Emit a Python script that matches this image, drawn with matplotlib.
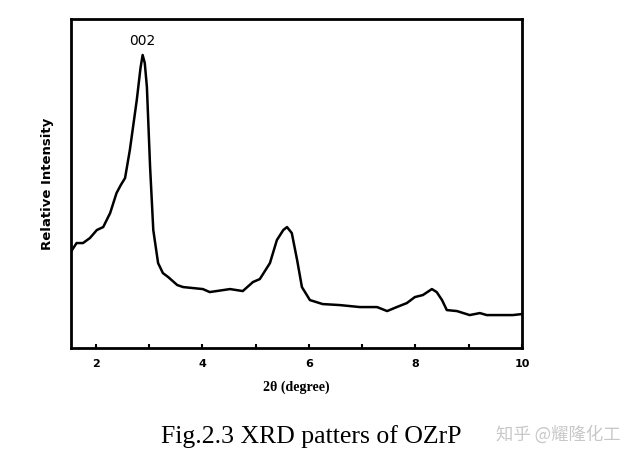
import matplotlib
matplotlib.use("Agg")
import matplotlib.pyplot as plt
import numpy as np

two_theta = [1.53, 1.64, 1.76, 1.89, 2.02, 2.14, 2.27, 2.39, 2.47, 2.55, 2.64, 2.77, 2.84, 2.88,
             2.92, 2.96, 3.02, 3.08, 3.17, 3.26, 3.36, 3.53, 3.64, 4.01, 4.14, 4.52, 4.76,
             4.95, 5.08, 5.27, 5.40, 5.52, 5.59, 5.68, 5.78, 5.87, 6.02, 6.26, 6.58, 6.96,
             7.28, 7.47, 7.65, 7.84, 7.99, 8.14, 8.31, 8.40, 8.50, 8.59, 8.78, 9.02,
             9.21, 9.34, 9.59, 9.83, 10.0]
intensity = [96, 105, 105, 110, 118, 121, 135, 155, 163, 170, 198, 248, 280, 293,
             285, 261, 181, 118, 85, 75, 71, 63, 61, 59, 56, 59, 57,
             66, 69, 85, 108, 118, 121, 115, 88, 61, 48, 44, 43, 41,
             41, 37, 41, 45, 51, 53, 59, 56, 48, 38, 37, 33,
             35, 33, 33, 33, 34]
xticks = [2, 4, 6, 8, 10]
minor_xticks = [3, 5, 7, 9]

fig = plt.figure(figsize=(6.4, 4.58), dpi=100)
ax = fig.add_axes([0.1105, 0.240, 0.705, 0.7185])
ax.plot(two_theta, intensity, color='black', lw=1.8)
ax.set_xlim(1.53, 10)
ax.set_ylim(0, 329)
ax.set_xticks(xticks)
ax.set_xticklabels([str(t) for t in xticks], fontsize=8, fontweight='bold')
ax.set_xticks(minor_xticks, minor=True)
ax.tick_params(axis='x', which='both', direction='in', length=3, width=1.5, pad=8)
ax.set_yticks([])
for s in ax.spines.values():
    s.set_linewidth(2)
ax.set_ylabel('Relative Intensity', fontsize=9.5, fontweight='bold', labelpad=12)
ax.set_xlabel('2θ (degree)', fontsize=10, fontweight='bold', family='Liberation Serif', labelpad=8)
ax.text(2.88, 300, '002', ha='center', va='bottom', fontsize=10)

fig.text(0.487, 0.048, 'Fig.2.3 XRD patters of OZrP', ha='center', va='center',
         fontsize=18.5, family='Liberation Serif')
fig.text(0.872, 0.052, '知乎 @耀隆化工', ha='center', va='center', fontsize=12.5,
         color='#c8c8c8', family=['Noto Sans CJK SC', 'DejaVu Sans'])
fig.savefig('out.png', dpi=100)
